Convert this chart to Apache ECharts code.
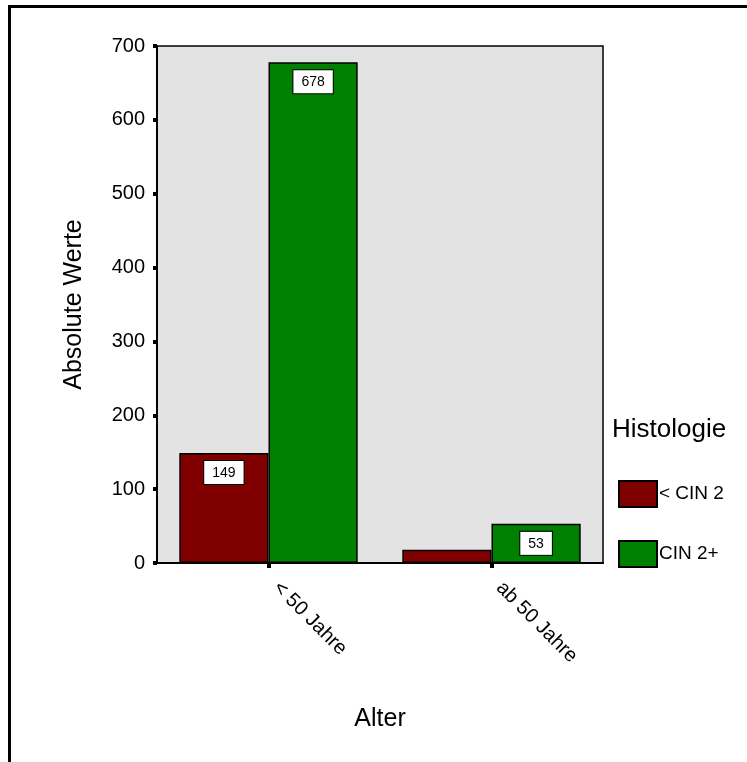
<!DOCTYPE html>
<html>
<head>
<meta charset="utf-8">
<style>
  html, body { margin: 0; padding: 0; background: #ffffff; }
  #chart { width: 747px; height: 762px; }
</style>
<script src="https://cdn.jsdelivr.net/npm/echarts@6/dist/echarts.min.js"></script>
</head>
<body>
<div id="chart"></div>
<script>
// Age groups on the x axis
const categories = ['< 50 Jahre', 'ab 50 Jahre'];
// Histology groups (legend)
const seriesNames = ['< CIN 2', 'CIN 2+'];
// Absolute counts per age group
const valuesBelowCin2 = [149, 18];
const valuesCin2Plus = [678, 53];
// Which bars carry a value box
const labelBelowCin2 = [true, false];
const labelCin2Plus = [true, true];
// Y axis range
const yMin = 0, yMax = 700, yStep = 100;

const FONT = 'Liberation Sans, Arial, sans-serif';
const colors = ['#800000', '#008000'];

function buildData(values, flags) {
  return values.map((v, i) => ({
    value: v,
    label: { show: flags[i] }
  }));
}

const barLabel = {
  position: 'insideTop',
  distance: 8,
  color: '#000',
  fontFamily: FONT,
  fontSize: 14,
  backgroundColor: '#ffffff',
  borderColor: '#000',
  borderWidth: 1,
  padding: [5, 8, 4, 8]
};

const chart = echarts.init(document.getElementById('chart'), null, { renderer: 'canvas' });
chart.setOption({
  animation: false,
  backgroundColor: '#ffffff',
  textStyle: { fontFamily: FONT },
  graphic: [
    // open frame: left and top edges
    { type: 'line', shape: { x1: 9.5, y1: 6.5, x2: 747, y2: 6.5 }, style: { stroke: '#000', lineWidth: 3 } },
    { type: 'line', shape: { x1: 9.5, y1: 5, x2: 9.5, y2: 762 }, style: { stroke: '#000', lineWidth: 3 } }
  ],
  title: {
    text: 'Histologie',
    left: 612,
    top: 417,
    padding: 0,
    textStyle: { fontFamily: FONT, fontSize: 26, fontWeight: 'normal', color: '#000' }
  },
  legend: {
    orient: 'vertical',
    left: 618,
    top: 480,
    padding: 0,
    icon: 'rect',
    itemWidth: 38,
    itemHeight: 26,
    itemGap: 32,
    textStyle: { fontFamily: FONT, fontSize: 19, color: '#000', padding: [0, 0, 0, -3] },
    data: seriesNames
  },
  grid: {
    left: 157,
    right: 144,
    top: 46,
    bottom: 199,
    show: true,
    backgroundColor: '#e3e3e3',
    borderColor: '#000',
    borderWidth: 1.5
  },
  xAxis: {
    type: 'category',
    data: categories,
    name: 'Alter',
    nameLocation: 'middle',
    nameGap: 144,
    nameTextStyle: { fontFamily: FONT, fontSize: 25, color: '#000' },
    axisLine: { show: true, lineStyle: { color: '#000', width: 2 } },
    axisTick: { show: true, alignWithLabel: true, length: 5, lineStyle: { color: '#000', width: 4 } },
    axisLabel: {
      rotate: -45,
      margin: 14,
      padding: [0, 0, 0, 11],
      fontFamily: FONT,
      fontSize: 20,
      color: '#000'
    }
  },
  yAxis: {
    type: 'value',
    min: yMin,
    max: yMax,
    interval: yStep,
    name: 'Absolute Werte',
    nameLocation: 'middle',
    nameGap: 70,
    nameTextStyle: { fontFamily: FONT, fontSize: 25, color: '#000' },
    splitLine: { show: false },
    axisLine: { show: true, lineStyle: { color: '#000', width: 2 } },
    axisTick: { show: true, length: 4, lineStyle: { color: '#000', width: 4 } },
    axisLabel: { margin: 12, fontFamily: FONT, fontSize: 20, color: '#000' }
  },
  series: [
    {
      name: seriesNames[0],
      type: 'bar',
      data: buildData(valuesBelowCin2, labelBelowCin2),
      barGap: '0%',
      barCategoryGap: '20%',
      itemStyle: { color: colors[0], borderColor: '#000', borderWidth: 1.5 },
      label: barLabel
    },
    {
      name: seriesNames[1],
      type: 'bar',
      data: buildData(valuesCin2Plus, labelCin2Plus),
      barGap: '0%',
      barCategoryGap: '20%',
      itemStyle: { color: colors[1], borderColor: '#000', borderWidth: 1.5 },
      label: barLabel
    }
  ]
});
</script>
</body>
</html>
